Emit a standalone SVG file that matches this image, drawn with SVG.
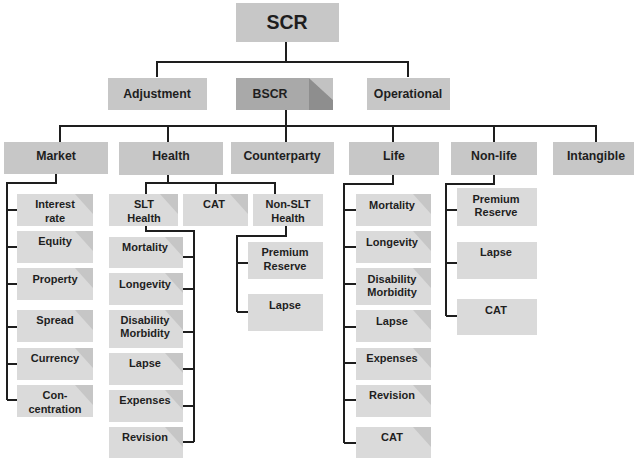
<svg xmlns="http://www.w3.org/2000/svg" width="637" height="458" viewBox="0 0 637 458">
<style>
.main{fill:#c7c7c7}
.sub{fill:#dadada}
.corner{fill:#c6c6c6}
.t{font-family:"Liberation Sans",Arial,sans-serif;font-weight:bold;fill:#1e1e1e;text-anchor:middle}
.t1{font-size:12.3px}
.t2{font-size:11px}
.conn path{fill:none;stroke:#1e1e1e;stroke-width:2}
</style>
<rect width="637" height="458" fill="#ffffff"/>
<g class="conn">
<path d="M286 42V62M157 77V62H408V77"/>
<path d="M286 110V126M60 142V126H596V142M168 126V142M286 126V142M393 126V142M494 126V142"/>
<path d="M56 174V183H7V400M7 210H17M7 247H17M7 284H17M7 327H17M7 364H17M7 400H17"/>
<path d="M168 175V183M146 194V183H275V194M216 183V194"/>
<path d="M146 226V231H194V442M178 257H194M178 289H194M178 332H194M178 369H194M178 406H194M178 442H194"/>
<path d="M286 226V236H237V312M237 263H248M237 312H248"/>
<path d="M393 175V184H344V443M344 210H356M344 247H356M344 284H356M344 327H356M344 363H356M344 400H356M344 443H356"/>
<path d="M494 175V184H446V316M446 210H457M446 263H457M446 316H457"/>
</g>
<g id="scr"><rect class="main" x="236" y="3" width="103" height="39"/><text class="t" x="287" y="29" font-size="19.5">SCR</text></g>
<g id="adjustment"><rect class="main" x="108" y="78" width="99" height="32"/><text class="t t1" x="157" y="98">Adjustment</text></g>
<g id="bscr"><rect x="236" y="78" width="97" height="32" fill="#a9a9a9"/><polygon points="309,78 333,100 333,110 309,110" fill="#8e8e8e"/><polygon points="309,78 333,78 333,100" fill="#c2c2c2"/><text class="t t1" x="270" y="98">BSCR</text></g>
<g id="operational"><rect class="main" x="367" y="78" width="83" height="32"/><text class="t t1" x="408" y="98">Operational</text></g>
<g id="market"><rect class="main" x="4" y="142" width="104" height="32"/><text class="t t1" x="56" y="160">Market</text></g>
<g id="health"><rect class="main" x="119" y="142" width="104" height="33"/><text class="t t1" x="171" y="160">Health</text></g>
<g id="counterparty"><rect class="main" x="231" y="142" width="103" height="32"/><text class="t t1" x="282" y="160">Counterparty</text></g>
<g id="life"><rect class="main" x="349" y="142" width="90" height="33"/><text class="t t1" x="394" y="160">Life</text></g>
<g id="nonlife"><rect class="main" x="451" y="142" width="86" height="33"/><text class="t t1" x="494" y="160">Non-life</text></g>
<g id="intangible"><rect class="main" x="553" y="142" width="81" height="33"/><text class="t t1" x="596" y="160">Intangible</text></g>
<!-- Market children -->
<g id="m-interest"><rect class="sub" x="17" y="194" width="76" height="32"/><polygon class="corner" points="75,194 93,194 93,214"/><text class="t t2" x="55" y="208">Interest</text><text class="t t2" x="55" y="222">rate</text></g>
<g id="m-equity"><rect class="sub" x="17" y="231" width="76" height="32"/><polygon class="corner" points="75,231 93,231 93,251"/><text class="t t2" x="55" y="245">Equity</text></g>
<g id="m-property"><rect class="sub" x="17" y="268" width="76" height="32"/><polygon class="corner" points="75,268 93,268 93,288"/><text class="t t2" x="55" y="283">Property</text></g>
<g id="m-spread"><rect class="sub" x="17" y="310" width="76" height="32"/><polygon class="corner" points="75,310 93,310 93,330"/><text class="t t2" x="55" y="324">Spread</text></g>
<g id="m-currency"><rect class="sub" x="17" y="348" width="76" height="32"/><polygon class="corner" points="75,348 93,348 93,368"/><text class="t t2" x="55" y="362">Currency</text></g>
<g id="m-concentration"><rect class="sub" x="17" y="385" width="76" height="32"/><polygon class="corner" points="75,385 93,385 93,405"/><text class="t t2" x="55" y="399">Con-</text><text class="t t2" x="55" y="413">centration</text></g>
<!-- Health children -->
<g id="h-slt"><rect class="sub" x="109" y="194" width="69" height="32"/><polygon class="corner" points="160,194 178,194 178,214"/><text class="t t2" x="144" y="208">SLT</text><text class="t t2" x="144" y="222">Health</text></g>
<g id="h-cat"><rect class="sub" x="183" y="194" width="65" height="32"/><polygon class="corner" points="230,194 248,194 248,214"/><text class="t t2" x="214" y="208">CAT</text></g>
<g id="h-nonslt"><rect class="sub" x="253" y="194" width="70" height="32"/><text class="t t2" x="288" y="208">Non-SLT</text><text class="t t2" x="288" y="222">Health</text></g>
<g id="slt-mortality"><rect class="sub" x="109" y="237" width="74" height="31"/><polygon class="corner" points="165,237 183,237 183,257"/><text class="t t2" x="145" y="251">Mortality</text></g>
<g id="slt-longevity"><rect class="sub" x="109" y="273" width="74" height="32"/><polygon class="corner" points="165,273 183,273 183,293"/><text class="t t2" x="145" y="288">Longevity</text></g>
<g id="slt-disability"><rect class="sub" x="109" y="310" width="74" height="38"/><polygon class="corner" points="165,310 183,310 183,330"/><text class="t t2" x="145" y="324">Disability</text><text class="t t2" x="145" y="337">Morbidity</text></g>
<g id="slt-lapse"><rect class="sub" x="109" y="353" width="74" height="32"/><polygon class="corner" points="165,353 183,353 183,373"/><text class="t t2" x="145" y="367">Lapse</text></g>
<g id="slt-expenses"><rect class="sub" x="109" y="390" width="74" height="32"/><polygon class="corner" points="165,390 183,390 183,410"/><text class="t t2" x="145" y="404">Expenses</text></g>
<g id="slt-revision"><rect class="sub" x="109" y="427" width="74" height="31"/><polygon class="corner" points="165,427 183,427 183,447"/><text class="t t2" x="145" y="441">Revision</text></g>
<g id="nslt-premium"><rect class="sub" x="248" y="242" width="75" height="37"/><text class="t t2" x="285" y="256">Premium</text><text class="t t2" x="285" y="270">Reserve</text></g>
<g id="nslt-lapse"><rect class="sub" x="248" y="294" width="75" height="37"/><text class="t t2" x="285" y="309">Lapse</text></g>
<!-- Life children -->
<g id="l-mortality"><rect class="sub" x="356" y="194" width="75" height="32"/><polygon class="corner" points="413,194 431,194 431,214"/><text class="t t2" x="392" y="209">Mortality</text></g>
<g id="l-longevity"><rect class="sub" x="356" y="231" width="75" height="32"/><polygon class="corner" points="413,231 431,231 431,251"/><text class="t t2" x="392" y="246">Longevity</text></g>
<g id="l-disability"><rect class="sub" x="356" y="268" width="75" height="37"/><polygon class="corner" points="413,268 431,268 431,288"/><text class="t t2" x="392" y="283">Disability</text><text class="t t2" x="392" y="296">Morbidity</text></g>
<g id="l-lapse"><rect class="sub" x="356" y="310" width="75" height="32"/><polygon class="corner" points="413,310 431,310 431,330"/><text class="t t2" x="392" y="325">Lapse</text></g>
<g id="l-expenses"><rect class="sub" x="356" y="348" width="75" height="32"/><polygon class="corner" points="413,348 431,348 431,368"/><text class="t t2" x="392" y="362">Expenses</text></g>
<g id="l-revision"><rect class="sub" x="356" y="385" width="75" height="32"/><polygon class="corner" points="413,385 431,385 431,405"/><text class="t t2" x="392" y="399">Revision</text></g>
<g id="l-cat"><rect class="sub" x="356" y="427" width="75" height="31"/><polygon class="corner" points="413,427 431,427 431,447"/><text class="t t2" x="392" y="441">CAT</text></g>
<!-- Non-life children -->
<g id="n-premium"><rect class="sub" x="457" y="188" width="80" height="38"/><text class="t t2" x="496" y="203">Premium</text><text class="t t2" x="496" y="216">Reserve</text></g>
<g id="n-lapse"><rect class="sub" x="457" y="242" width="80" height="37"/><text class="t t2" x="496" y="256">Lapse</text></g>
<g id="n-cat"><rect class="sub" x="457" y="299" width="80" height="36"/><text class="t t2" x="496" y="314">CAT</text></g>
</svg>
